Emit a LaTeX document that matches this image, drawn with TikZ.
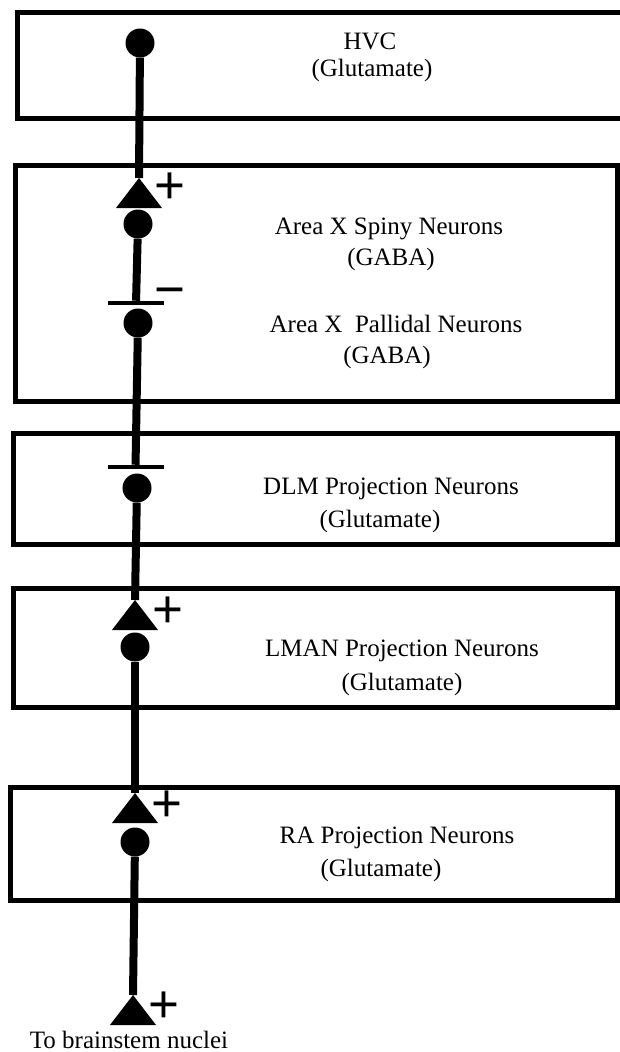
\documentclass[tikz,border=0pt]{standalone}
\usepackage{fontspec}
\setmainfont{Liberation Serif}
\newfontfamily\signfont{Liberation Sans}
\begin{document}
\begin{tikzpicture}[x=1pt,y=-1pt,
 region/.style={draw, line width=5pt, inner sep=0pt, outer sep=0pt, anchor=north west},
 soma/.style={circle, fill, inner sep=0pt, minimum size=29pt},
 exc/.style={inner sep=0pt, outer sep=0pt, minimum width=46pt, minimum height=30pt,
   path picture={\fill (path picture bounding box.north) -- (path picture bounding box.south east) -- (path picture bounding box.south west) -- cycle;}},
 inh/.style={fill, inner sep=0pt, outer sep=0pt, minimum width=56pt, minimum height=4.5pt},
 axon/.style={line width=8pt},
 lbl/.style={font=\fontsize{25}{29}\selectfont, anchor=base, inner sep=0pt},
 sign/.style={font=\signfont\fontsize{53}{53}\selectfont, anchor=base, inner sep=0pt}
]
\useasboundingbox (0,0) rectangle (620,1052);
\fill[white] (0,0) rectangle (620,1052);

% regions
\node[region, minimum width=613pt, minimum height=106pt] (hvc) at (17,12) {};
\node[region, minimum width=602pt, minimum height=236pt] (areax) at (15,165) {};
\node[region, minimum width=604pt, minimum height=111pt] (dlm) at (13,433) {};
\node[region, minimum width=604pt, minimum height=119pt] (lman) at (13,588) {};
\node[region, minimum width=607pt, minimum height=113pt] (ra) at (10,787) {};

% labels
\node[lbl] (l1a) at (370,49) {HVC};
\node[lbl] (l1b) at (372,76) {(Glutamate)};
\node[lbl] (l2a) at (389,234) {Area X Spiny Neurons};
\node[lbl] (l2b) at (391,265) {(GABA)};
\node[lbl] (l3a) at (396,332) {Area X\ \ Pallidal Neurons};
\node[lbl] (l3b) at (387,363) {(GABA)};
\node[lbl] (l4a) at (391,494) {DLM Projection Neurons};
\node[lbl] (l4b) at (380,527) {(Glutamate)};
\node[lbl] (l5a) at (402,656) {LMAN Projection Neurons};
\node[lbl] (l5b) at (402,690) {(Glutamate)};
\node[lbl] (l6a) at (397,843) {RA Projection Neurons};
\node[lbl] (l6b) at (381,876) {(Glutamate)};
\node[lbl] (out) at (129,1048) {To brainstem nuclei};

% somata
\node[soma] (c1) at (140,43) {};
\node[soma] (c2) at (138,224) {};
\node[soma] (c3) at (138,323) {};
\node[soma] (c4) at (137,488) {};
\node[soma] (c5) at (135,647) {};
\node[soma] (c6) at (135,842) {};

% excitatory terminals
\node[exc] (t1) at (139,193) {};
\node[exc] (t2) at (135,615) {};
\node[exc] (t3) at (135,808) {};
\node[exc] (t4) at (133,1010) {};

% inhibitory terminals
\node[inh] (b1) at (136,303) {};
\node[inh] (b2) at (135.5,467) {};

% axons
\draw[axon] (c1) -- (t1.north);
\draw[axon] (c2) -- (b1);
\draw[axon] (c3) -- (b2);
\draw[axon] (c4) -- (t2.north);
\draw[axon] (c5) -- (t3.north);
\draw[axon] (c6) -- (t4.north);

% signs
\node[sign] (s1) at (170,203) {+};
\node[sign] (s2) at (170,307) {−};
\node[sign] (s3) at (168,627) {+};
\node[sign] (s4) at (167,821) {+};
\node[sign] (s5) at (164,1022) {+};
\end{tikzpicture}
\end{document}
